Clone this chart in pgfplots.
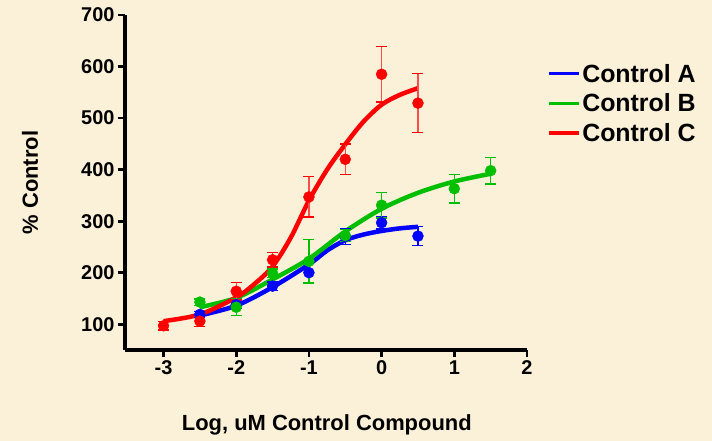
\documentclass[border=0pt]{standalone}
\usepackage{pgfplots}
\pgfplotsset{compat=1.18}
\usepackage{fontspec}
\setmainfont{Liberation Sans}
\definecolor{bg}{RGB}{251,240,216}
\definecolor{cA}{RGB}{0,0,255}
\definecolor{cB}{RGB}{0,190,0}
\definecolor{cC}{RGB}{255,0,0}
\begin{document}
\begin{tikzpicture}
\path[fill=bg, use as bounding box] (-125bp,-91bp) rectangle (587bp,350bp);
\begin{axis}[
    at={(0,0)}, anchor=south west,
    scale only axis,
    width=402bp, height=335bp,
    xmin=-3.53, xmax=2, ymin=50, ymax=700,
    axis lines=left,
    axis line style={-, line width=4bp},
    tick style={line width=2.8bp, black},
    tick align=outside,
    major tick length=7bp,
    xtick={-3,-2,-1,0,1,2},
    ytick={100,200,300,400,500,600,700},
    /pgf/number format/assume math mode=true,
    tick label style={font=\bfseries\fontsize{20}{20}\selectfont},
    xlabel={Log, uM Control Compound},
    ylabel={\% Control},
    label style={font=\bfseries\fontsize{22}{22}\selectfont},
    x label style={at={(axis description cs:0.502,-0.224)}, anchor=center},
    y label style={at={(axis description cs:-0.236,0.5)}, anchor=center},
    legend style={at={(axis description cs:1.042,0.866)}, anchor=north west,
        draw=none, fill=none, font=\bfseries\fontsize{25}{25}\selectfont,
        row sep=6bp},
    legend cell align=left,
    legend image code/.code={\draw[line width=3.2bp] (0bp,0bp) -- (30bp,0bp);},
]
% fitted curves
\addplot[cA, line width=4.5bp, smooth] coordinates {
    (-2.5,117) (-2,136) (-1.5,172) (-1,216) (-0.75,243) (-0.5,263)
    (-0.25,274) (0,281) (0.25,286) (0.5,289)};
\addlegendentry{Control A}
\addplot[cB, line width=4.5bp, smooth] coordinates {
    (-2.5,133) (-2,151) (-1.5,187) (-1,227) (-0.5,280) (0,324)
    (0.5,355) (1,377) (1.5,392)};
\addlegendentry{Control B}
\addplot[cC, line width=4.5bp, smooth] coordinates {
    (-3,106) (-2.5,119) (-2,152) (-1.75,178) (-1.5,212) (-1.25,268)
    (-1,340) (-0.75,400) (-0.5,449) (-0.25,493) (0,526) (0.25,545) (0.5,558)};
\addlegendentry{Control C}
% data points with error bars
\addplot[cA, only marks, mark=*, mark size=5.5bp, forget plot,
    error bars/.cd, y dir=both, y explicit,
    error bar style={line width=1.3bp, cA},
    error mark options={rotate=90, mark size=5.5bp, line width=1.3bp, cA}]
    coordinates {
    (-2.5,119) +- (0,6) (-2,138) +- (0,8) (-1.5,174) +- (0,8)
    (-1,200) +- (0,20) (-0.5,270) +- (0,15) (0,297) +- (0,12)
    (0.5,271) +- (0,18)};
\addplot[cB, only marks, mark=*, mark size=5.5bp, forget plot,
    error bars/.cd, y dir=both, y explicit,
    error bar style={line width=1.3bp, cB},
    error mark options={rotate=90, mark size=5.5bp, line width=1.3bp, cB}]
    coordinates {
    (-2.5,143) +- (0,6) (-2,133) +- (0,16) (-1.5,199) +- (0,8)
    (-1,222) +- (0,42) (-0.5,272) +- (0,12) (0,331) +- (0,25)
    (1,363) +- (0,28) (1.5,398) +- (0,26)};
\addplot[cC, only marks, mark=*, mark size=5.5bp, forget plot,
    error bars/.cd, y dir=both, y explicit,
    error bar style={line width=1.3bp, cC!70},
    error mark options={rotate=90, mark size=5.5bp, line width=1.3bp, cC}]
    coordinates {
    (-3,97) +- (0,8) (-2.5,106) +- (0,10) (-2,164) +- (0,17)
    (-1.5,225) +- (0,14) (-1,347) +- (0,39) (-0.5,420) +- (0,30)
    (0,585) +- (0,54) (0.5,529) +- (0,57)};
\end{axis}
\end{tikzpicture}
\end{document}
